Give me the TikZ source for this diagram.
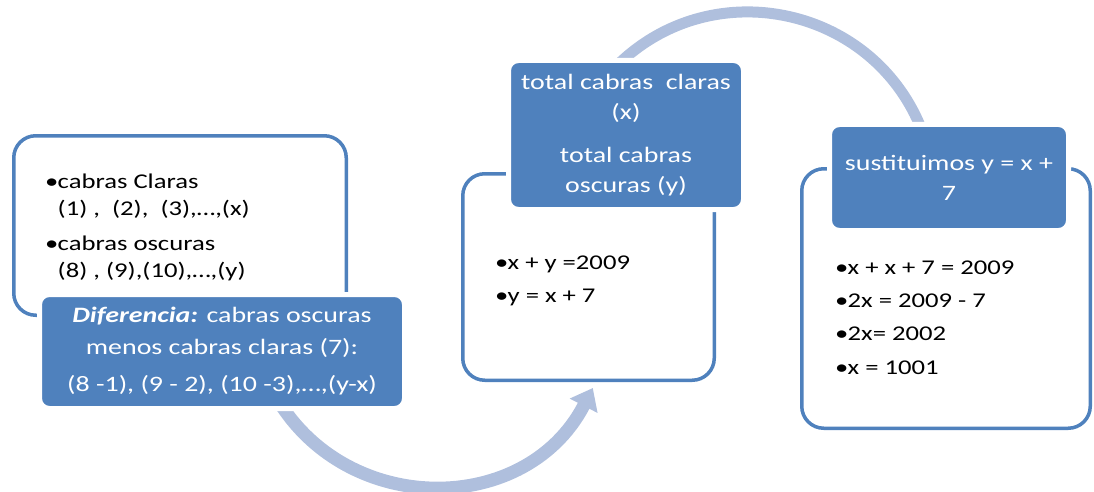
\documentclass[tikz,border=0pt]{standalone}
\usepackage{fontspec}
\setmainfont{Carlito}[FakeStretch=1.27]
\usetikzlibrary{arrows.meta}
\definecolor{stepblue}{HTML}{4F81BD}
\definecolor{arcblue}{HTML}{AFBFDD}
\newcommand{\blt}{\makebox[12.5pt][l]{•}}
\newcommand{\ind}{\hspace*{12.5pt}}

\begin{document}
\begin{tikzpicture}[
    x=1pt, y=-1pt,
    >={Triangle[width=30pt, length=20pt]},
    panel/.style={draw=stepblue, line width=3.5pt, rounded corners=22pt, fill=white, inner sep=0pt},
    headbox/.style={fill=stepblue, draw=white, line width=5pt, rounded corners=10pt,
                    text=white, align=center, inner sep=0pt},
    listtext/.style={anchor=west, align=left, inner sep=0pt},
    flow/.style={draw=arcblue, line width=13pt},
]
\useasboundingbox (0,0) rectangle (1094,492);

% End points of the two sweeping arrows
\coordinate (lowstart) at (268,381.5);
\coordinate (lowend) at (592.8,388);
\coordinate (topstart) at (604.8,78.8);
\coordinate (topend) at (925.8,141.2);

% Sweeping arrows (behind the boxes)
\draw[flow, ->] (lowstart) .. controls (331.5,517.6) and (523.9,521.5) .. (lowend);
\draw[flow, line width=11pt] (topstart) .. controls (699.3,-33.7) and (880.4,1.5) .. (topend);

% Outlined panels
\node[panel, minimum width=332.5pt, minimum height=179.5pt] (left) at (180,225.5) {};
\node[panel, minimum width=251.5pt, minimum height=206.5pt] (middle) at (588.5,277) {};
\node[panel, minimum width=288.5pt, minimum height=259.5pt] (right) at (946,298.5) {};

% Panel texts
\node[listtext, font=\fontsize{21}{27}\selectfont] (lefttext) at (45,227)
    {\blt cabras Claras\\\ind(1) ,\ \ (2),\ \ (3),…,(x)\\[8pt]\blt cabras oscuras\\\ind(8) , (9),(10),…,(y)};
\node[listtext, font=\fontsize{21}{33}\selectfont] (midtext) at (495,281)
    {\blt x + y =2009\\\blt y = x + 7};
\node[listtext, font=\fontsize{21}{33.3}\selectfont] (righttext) at (835,317.5)
    {\blt x + x + 7 = 2009\\\blt 2x = 2009 - 7\\\blt 2x= 2002\\\blt x = 1001};

% Blue heading boxes
\node[headbox, minimum width=365pt, minimum height=114pt, font=\fontsize{22}{32}\selectfont] (diff) at (222,351.5)
    {\textbf{\textit{Diferencia:}} cabras oscuras\\menos cabras claras (7):\\[5pt](8 -1), (9 - 2), (10 -3),…,(y-x)};
\node[headbox, minimum width=235pt, minimum height=149pt, font=\fontsize{22}{30}\selectfont] (totals) at (626,135)
    {total cabras\ \ claras\\(x)\\[13pt]total cabras\\oscuras (y)};
\node[headbox, minimum width=239pt, minimum height=106pt, font=\fontsize{22}{30}\selectfont] (subst) at (949,177.5)
    {sustituimos y = x +\\7};

\end{tikzpicture}
\end{document}
